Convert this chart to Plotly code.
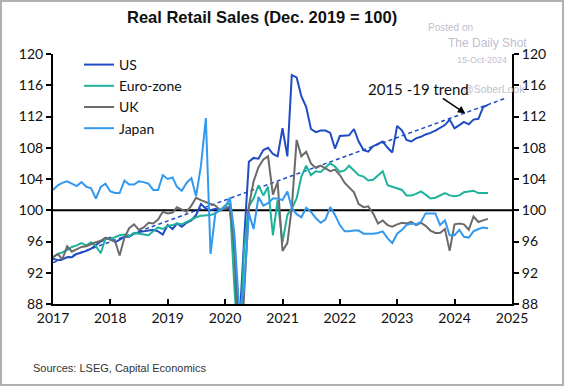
import pandas as pd
import plotly.graph_objects as go

dates = pd.date_range("2017-01-01", periods=92, freq="MS")

us = [93.8, 93.6, 93.7, 94.0, 94.0, 94.4, 94.6, 94.8, 95.1, 95.6, 96.0, 96.3,
      96.5, 95.9, 96.2, 96.6, 96.6, 97.0, 97.2, 97.3, 97.4, 97.5, 97.3, 96.9,
      98.1, 97.6, 98.3, 97.9, 98.4, 98.7, 99.4, 100.8, 100.2, 100.0, 100.2, 100.0,
      100.4, 100.2, 94.5, 85.0, 96.0, 106.2, 106.7, 106.6, 107.7, 108.0, 107.2, 106.9,
      110.5, 106.9, 117.3, 117.0, 114.6, 113.2, 110.4, 110.0, 110.2, 110.2, 109.9, 107.9,
      109.5, 109.6, 109.6, 110.4, 108.8, 107.7, 107.5, 108.2, 108.5, 108.8, 108.0, 107.4,
      110.8, 110.2, 109.0, 108.8, 109.2, 109.4, 109.7, 109.9, 110.2, 110.6, 110.9, 111.6,
      110.5, 110.9, 111.3, 111.0, 111.6, 111.7, 113.2, 113.5]

euro = [94.0, 94.4, 94.6, 94.9, 95.3, 95.5, 95.8, 95.5, 95.9, 95.4, 94.5, 96.4,
        96.3, 96.6, 96.8, 96.9, 96.7, 97.1, 97.0, 96.9, 96.8, 97.3, 97.8, 97.6,
        98.0, 98.1, 98.3, 98.2, 98.5, 98.9, 99.1, 99.3, 99.4, 99.4, 99.6, 100.0,
        100.6, 100.9, 90.0, 80.5, 95.0, 100.5, 101.5, 103.2, 101.9, 103.0, 96.8, 101.3,
        95.9, 99.4, 100.2, 101.5, 104.3, 105.7, 104.5, 105.0, 104.9, 105.4, 106.0, 105.6,
        104.9, 105.1, 105.7, 105.1, 104.5, 104.3, 103.8, 103.9, 104.4, 105.0, 103.2, 103.0,
        102.8, 102.6, 101.9, 101.9, 102.1, 102.4, 102.0, 101.5, 101.6, 101.9, 102.2, 101.9,
        101.8, 101.9, 102.3, 102.4, 102.5, 102.2, 102.2, 102.2]

uk = [94.0, 94.4, 93.7, 95.4, 94.7, 95.0, 95.3, 95.4, 95.7, 95.9, 96.1, 96.5,
      96.2, 96.0, 94.2, 96.5, 97.7, 98.2, 97.5, 97.8, 98.4, 98.3, 98.8, 99.8,
      99.6, 99.7, 100.4, 100.1, 99.8, 100.6, 101.6, 101.3, 101.0, 100.8, 100.6, 100.0,
      100.2, 100.5, 95.0, 78.0, 89.0, 100.5, 103.7, 105.5, 106.5, 106.9, 102.0, 103.6,
      94.8, 95.8, 100.3, 109.0, 106.9, 107.5, 106.0, 105.4, 105.7, 105.4, 105.0, 105.2,
      104.5, 103.5, 102.9, 102.3, 100.8, 100.4, 100.5, 99.6, 98.3, 98.7, 98.1, 97.9,
      98.2, 98.4, 98.3, 98.5, 98.1, 98.4, 98.0, 97.4, 97.1, 97.1, 97.6, 94.8,
      98.2, 98.3, 98.2, 97.5, 99.2, 98.5, 98.7, 98.9]

japan = [102.6, 103.2, 103.5, 103.7, 103.4, 103.1, 103.6, 103.0, 102.8, 101.5, 103.0, 103.4,
         102.4, 102.2, 102.2, 103.8, 103.3, 103.3, 103.7, 103.6, 103.4, 102.6, 102.6, 104.5,
         104.0, 104.2, 103.0, 102.5, 103.5, 104.1, 101.8, 105.7, 111.8, 94.4, 99.7, 100.0,
         100.4, 101.6, 97.0, 87.0, 90.0, 99.6, 97.6, 101.7, 100.6, 100.9, 101.5, 101.5,
         101.3, 102.4, 100.3, 99.5, 99.1, 100.3, 99.8, 99.0, 98.4, 98.8, 100.4, 99.4,
         98.1, 97.3, 97.3, 97.4, 97.4, 97.0, 97.0, 97.0, 97.1, 97.3, 96.4, 95.8,
         97.0, 97.5, 98.1, 98.3, 98.2, 98.5, 99.6, 99.6, 99.6, 98.1, 98.7, 96.8,
         96.8, 97.5, 96.6, 96.5, 97.3, 97.6, 97.8, 97.7]

trend_dates = ["2017-01-01", "2024-11-15"]
trend_vals = [93.3, 114.3]

year_ticks = [f"{y}-01-01" for y in range(2017, 2026)]
year_labels = [str(y) for y in range(2017, 2026)]

series = [("US", us, "#1f4bc4"), ("Euro-zone", euro, "#1db39b"),
          ("UK", uk, "#6b6b6b"), ("Japan", japan, "#3399ee")]

FONT = "Lato"
W, H = 564, 386
L, R, T, B = 53, 52, 54, 82
PW, PH = W - L - R, H - T - B


def px(x):
    return (x - L) / PW


def py(y):
    return 1 - (y - T) / PH


fig = go.Figure()
fig.add_trace(go.Scatter(x=trend_dates, y=trend_vals, mode="lines", showlegend=False,
                         line=dict(color="#1f4bc4", width=1.5, dash="4px,3px"), hoverinfo="skip"))
for name, vals, col in series:
    fig.add_trace(go.Scatter(x=dates, y=vals, mode="lines", name=name,
                             line=dict(color=col, width=2)))
fig.add_trace(go.Scatter(x=[None], y=[None], yaxis="y2", showlegend=False))

axis_common = dict(showline=True, linecolor="black", linewidth=2,
                   tickwidth=2, tickcolor="black", ticklen=5,
                   showgrid=False, zeroline=False,
                   tickfont=dict(family=FONT, size=14, color="#111"))

fig.update_layout(
    width=W, height=H,
    margin=dict(l=L, r=R, t=T, b=B),
    paper_bgcolor="white", plot_bgcolor="white",
    showlegend=True,
    legend=dict(x=px(79), y=py(49), xanchor="left", yanchor="top",
                font=dict(family=FONT, size=14, color="#111"),
                bgcolor="rgba(0,0,0,0)", itemwidth=30, tracegroupgap=0),
    xaxis=dict(type="date", range=["2017-01-01", "2025-01-01"],
               tickvals=year_ticks, ticktext=year_labels, ticks="inside", **axis_common),
    yaxis=dict(range=[88, 120], dtick=4, tick0=88, ticks="outside", **axis_common),
    yaxis2=dict(range=[88, 120], dtick=4, tick0=88, overlaying="y", side="right",
                ticks="outside", **axis_common),
)

fig.add_shape(type="line", xref="paper", yref="y", x0=0, x1=1, y0=100, y1=100,
              line=dict(color="black", width=2), layer="below")

# border
fig.add_shape(type="rect", xref="paper", yref="paper",
              x0=px(1), x1=px(W - 1), y0=py(H - 1), y1=py(1),
              line=dict(color="#b0b0b0", width=2))

ann = [
    dict(text="<b>Real Retail Sales (Dec. 2019 = 100)</b>", x=px(262), y=py(17),
         font=dict(family="Liberation Sans", size=16.5, color="#111")),
    dict(text="Posted on", x=px(450), y=py(28),
         font=dict(family="Liberation Sans", size=10, color="#c0c0d0")),
    dict(text="The Daily Shot", x=px(487), y=py(43),
         font=dict(family="Liberation Sans", size=12, color="#c0c0d0")),
    dict(text="15-Oct-2024", x=px(482), y=py(60),
         font=dict(family="Liberation Sans", size=9, color="#c0c0d0")),
    dict(text="@SoberLook", x=px(494), y=py(89),
         font=dict(family="Liberation Sans", size=10.5, color="#c0c0d0")),
    dict(text="2015 -19 trend", x=px(418), y=py(89),
         font=dict(family=FONT, size=15, color="#111")),
    dict(text="Sources: LSEG, Capital Economics", x=px(31), y=py(368),
         xanchor="left", font=dict(family="Liberation Sans", size=11, color="#333")),
]
for a in ann:
    a.setdefault("xanchor", "center")
    fig.add_annotation(xref="paper", yref="paper", showarrow=False, yanchor="middle", **a)

fig.add_annotation(x="2024-03-10", y=112.4, xref="x", yref="y", text="",
                   showarrow=True, arrowhead=2, arrowsize=1, arrowwidth=1.5,
                   arrowcolor="black", ax=-24, ay=-16)

fig.write_html("out.html", config={"displayModeBar": False},
               post_script="document.body.style.margin='0px';document.body.style.overflow='hidden';")
